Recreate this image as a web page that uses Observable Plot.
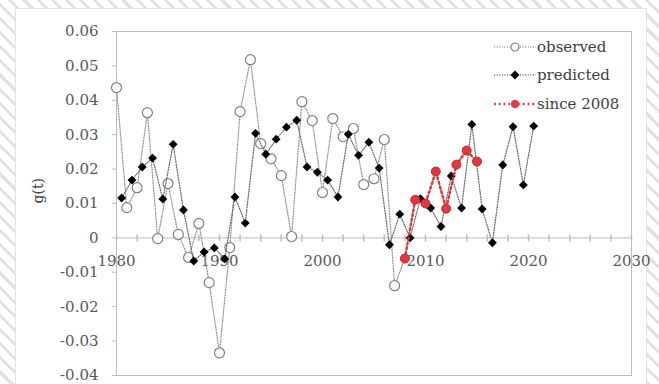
<!DOCTYPE html>
<html>
<head>
<meta charset="utf-8">
<script src="https://cdn.jsdelivr.net/npm/d3@7"></script>
<script src="https://cdn.jsdelivr.net/npm/@observablehq/plot@0.6"></script>
<style>
  body { margin: 0; }
  #wrap { position: relative; width: 659px; height: 384px; overflow: hidden;
    background: repeating-linear-gradient(45deg, #ffffff 0 7px, #e2e2e2 7px 10px); }
  #panel { position: absolute; left: 15px; top: 8px; width: 630px; height: 390px; background: #fff; border: 1px solid #e3e3e3; }
  #chart { position: absolute; left: 0; top: 0; }
  .leg { position: absolute; font-family: "DejaVu Serif", serif; font-size: 15px; color: #404040; line-height: 16px; white-space: nowrap; }
  .leg svg { position: absolute; left: -43px; top: 2px; }
</style>
</head>
<body>
<div id="wrap">
  <div id="panel"></div>
  <div id="chart"></div>
</div>
<script>
// ---- data ----
const observedYears = [1980,1981,1982,1983,1984,1985,1986,1987,1988,1989,1990,1991,1992,1993,1994,1995,1996,1997,1998,1999,2000,2001,2002,2003,2004,2005,2006,2007];
const observedValues = [0.0437,0.0088,0.0146,0.0364,-0.0002,0.0158,0.0010,-0.0057,0.0042,-0.0130,-0.0334,-0.0028,0.0367,0.0518,0.0274,0.0230,0.0181,0.0004,0.0396,0.0341,0.0132,0.0347,0.0294,0.0318,0.0155,0.0172,0.0286,-0.0139];

const sinceYears = [2008,2009,2010,2011,2012,2013,2014,2015];
const sinceValues = [-0.0060,0.0111,0.0100,0.0193,0.0085,0.0213,0.0254,0.0222];

const predictedYears = [1980.5,1981.5,1982.5,1983.5,1984.5,1985.5,1986.5,1987.5,1988.5,1989.5,1990.5,1991.5,1992.5,1993.5,1994.5,1995.5,1996.5,1997.5,1998.5,1999.5,2000.5,2001.5,2002.5,2003.5,2004.5,2005.5,2006.5,2007.5,2008.5,2009.5,2010.5,2011.5,2012.5,2013.5,2014.5,2015.5,2016.5,2017.5,2018.5,2019.5,2020.5];
const predictedValues = [0.0116,0.0168,0.0206,0.0232,0.0113,0.0272,0.0081,-0.0067,-0.0041,-0.0029,-0.0061,0.0119,0.0043,0.0304,0.0243,0.0287,0.0322,0.0342,0.0206,0.0191,0.0168,0.0119,0.0301,0.0240,0.0278,0.0203,-0.0020,0.0069,0.0000,0.0114,0.0087,0.0033,0.0180,0.0087,0.0330,0.0084,-0.0014,0.0212,0.0323,0.0154,0.0325];

const yTickValues = [0.06,0.05,0.04,0.03,0.02,0.01,0,-0.01,-0.02,-0.03,-0.04];
const yTickLabels = ["0.06","0.05","0.04","0.03","0.02","0.01","0","-0.01","-0.02","-0.03","-0.04"];
const xTickLabels = [1980,1990,2000,2010,2020,2030];
const xTickMarks = [1980,1982,1984,1986,1988,1990,1992,1994,1996,1998,2000,2002,2004,2006,2008,2010,2012,2014,2016,2018,2020,2022,2024,2026,2028,2030];
const seriesNames = ["observed","predicted","since 2008"];

// ---- tables ----
const observed = observedYears.map((y,i)=>({year:y, value:observedValues[i]}));
const since = sinceYears.map((y,i)=>({year:y, value:sinceValues[i]}));
const observedLine = observed.concat(since);
const predicted = predictedYears.map((y,i)=>({year:y, value:predictedValues[i]}));

const vtick = { draw(ctx, size) { const r = Math.sqrt(size/Math.PI); ctx.moveTo(0,-r); ctx.lineTo(0,r); } };

const chart = Plot.plot({
  width: 659, height: 384,
  marginLeft: 116, marginRight: 28, marginTop: 31, marginBottom: 9,
  x: {domain: [1980, 2030], axis: null},
  y: {domain: [-0.04, 0.06]},
  style: {background: "transparent", fontFamily: "DejaVu Serif, serif", fontSize: "15px", color: "#595959", overflow: "visible"},
  marks: [
    Plot.frame({stroke: "#bdbdbd"}),
    Plot.axisY(yTickValues, {anchor: "left", tickSize: 4, tickPadding: 14, label: null,
      tickFormat: d => yTickLabels[yTickValues.indexOf(d)], stroke: "#bdbdbd", fill: "#595959", fontSize: 15}),
    Plot.text(["g(t)"], {frameAnchor: "left", dx: -78, rotate: -90, fill: "#404040", fontSize: 14}),
    Plot.ruleY([0], {stroke: "#bdbdbd"}),
    Plot.dot(xTickMarks, {x: d => d, y: 0, symbol: vtick, r: 3.5, stroke: "#bdbdbd", fill: "none"}),
    Plot.text(xTickLabels, {x: d => d, y: 0, dy: 23, text: d => String(d), fill: "#595959", fontSize: 15}),
    // observed
    Plot.line(observedLine, {x: "year", y: "value", stroke: "#9a9a9a", strokeWidth: 1.3, strokeDasharray: "1,1.6"}),
    Plot.dot(observed, {x: "year", y: "value", r: 5, fill: "white", stroke: "#808080", strokeWidth: 1.2}),
    // predicted
    Plot.line(predicted, {x: "year", y: "value", stroke: "#707070", strokeWidth: 1.3, strokeDasharray: "1,1.6"}),
    Plot.dot(predicted, {x: "year", y: "value", symbol: "diamond2", r: 4, fill: "#000", stroke: "none"}),
    // since 2008
    Plot.line(since, {x: "year", y: "value", stroke: "#e0343c", strokeWidth: 2.4, strokeDasharray: "1.8,3"}),
    Plot.dot(since, {x: "year", y: "value", r: 4.5, fill: "#de3a40", stroke: "#c02a30", strokeWidth: 1})
  ]
});
document.getElementById("chart").appendChild(chart);

// ---- legend ----
const wrap = document.getElementById("wrap");
const legRows = [
  {name: seriesNames[0], top: 39, line: "#9a9a9a", lw: 1.3, dash: "1,1.6", marker: '<circle cx="21" cy="6" r="4" fill="white" stroke="#808080" stroke-width="1.2"/>'},
  {name: seriesNames[1], top: 67, line: "#707070", lw: 1.3, dash: "1,1.6", marker: '<path d="M21,1.5 L25.5,6 L21,10.5 L16.5,6 Z" fill="#000"/>'},
  {name: seriesNames[2], top: 96, line: "#e0343c", lw: 2.4, dash: "1.8,3", marker: '<circle cx="21" cy="6" r="4" fill="#de3a40"/>'}
];
legRows.forEach(r => {
  const d = document.createElement("div");
  d.className = "leg";
  d.style.left = "537px";
  d.style.top = r.top + "px";
  d.innerHTML = `<svg width="42" height="12"><line x1="0" y1="6" x2="42" y2="6" stroke="${r.line}" stroke-width="${r.lw}" stroke-dasharray="${r.dash}"/>${r.marker}</svg>${r.name}`;
  wrap.appendChild(d);
});
</script>
</body>
</html>
